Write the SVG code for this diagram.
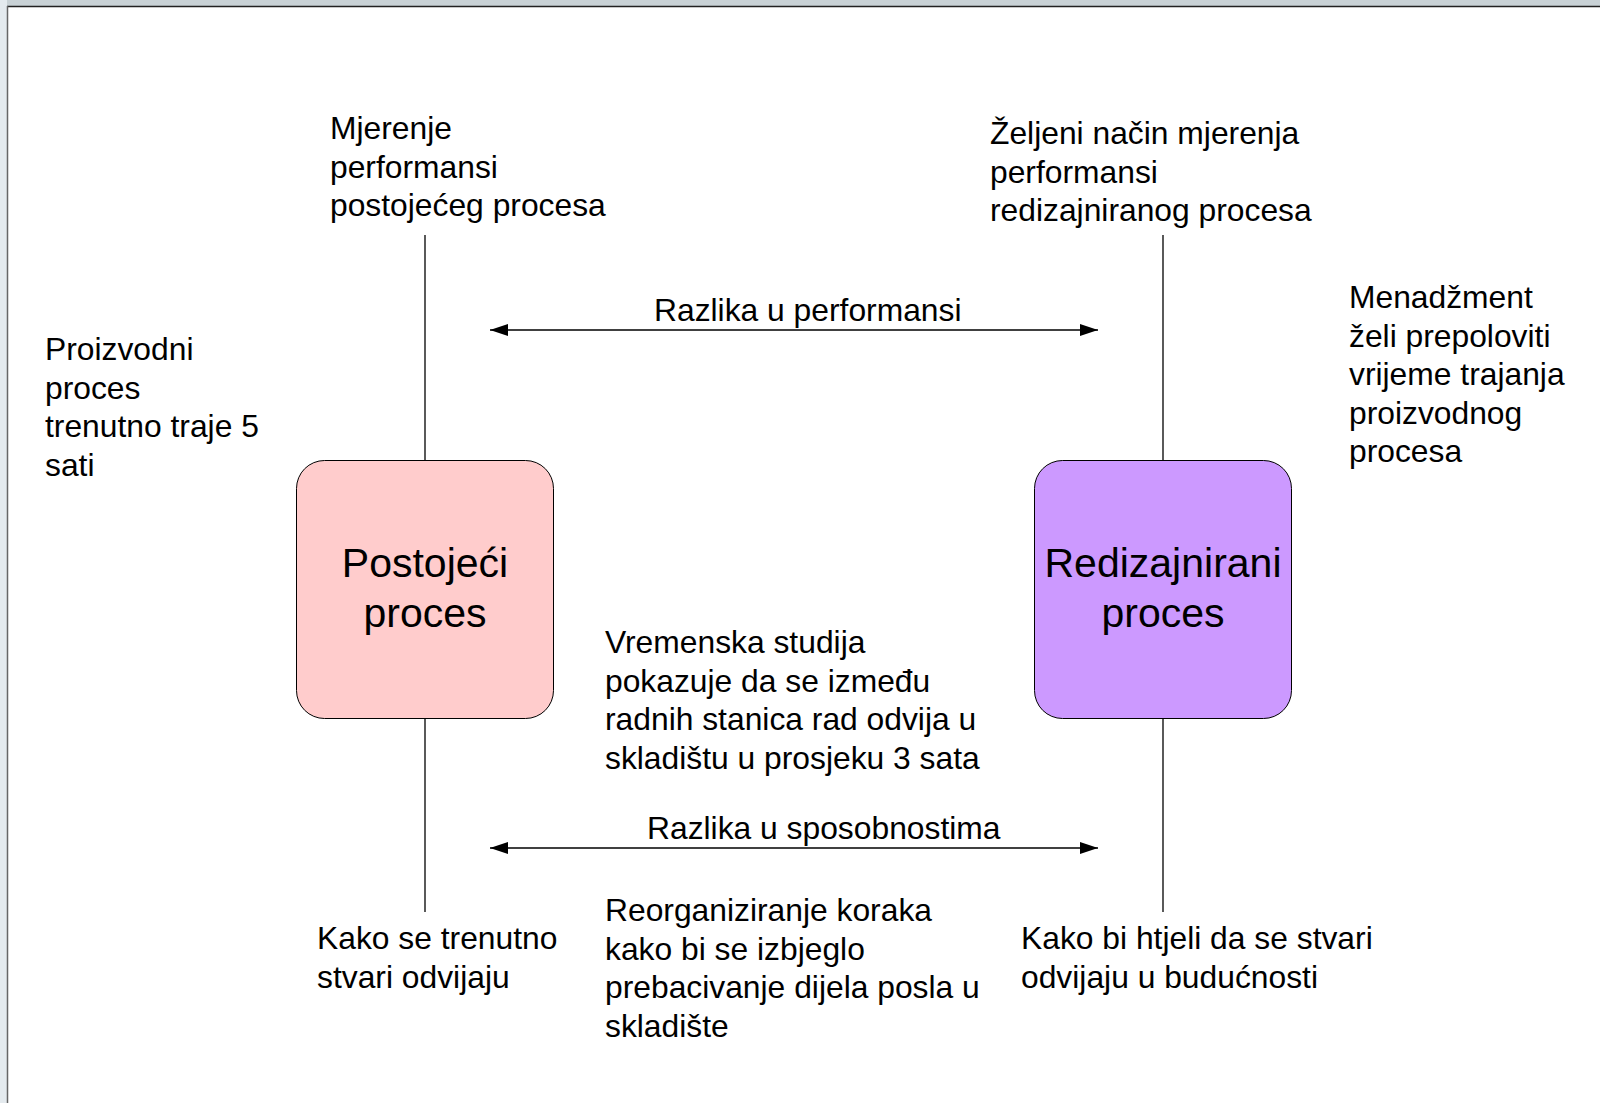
<svg xmlns="http://www.w3.org/2000/svg" width="1600" height="1103" viewBox="0 0 1600 1103">
<style>
.t{font-family:"Liberation Sans",Arial,sans-serif;font-size:31.8px;fill:#000}
.b{font-family:"Liberation Sans",Arial,sans-serif;font-size:41px;fill:#000;text-anchor:middle}
.ln{stroke:#000;stroke-width:1.3;fill:none}
</style>
<defs>
<marker id="ah" viewBox="0 0 18 12" refX="18" refY="6" markerWidth="18" markerHeight="12" markerUnits="userSpaceOnUse" orient="auto-start-reverse">
<path d="M0,0 L18,6 L0,12 Z" fill="#000"/>
</marker>
</defs>
<rect width="1600" height="1103" fill="#fff"/>
<rect x="0" y="0" width="1600" height="6" fill="#c9d2d6"/>
<line x1="0" y1="6.5" x2="1600" y2="6.5" stroke="#222" stroke-width="1.5"/>
<rect x="0" y="0" width="7" height="1103" fill="#e4eaee"/>
<line x1="7.5" y1="6" x2="7.5" y2="1103" stroke="#666" stroke-width="1.5"/>

<g id="connectors">
<line class="ln" x1="425" y1="235" x2="425" y2="460"/>
<line class="ln" x1="425" y1="718" x2="425" y2="912"/>
<line class="ln" x1="1163" y1="235" x2="1163" y2="460"/>
<line class="ln" x1="1163" y1="718" x2="1163" y2="912"/>
<line class="ln" x1="490" y1="330" x2="1098" y2="330" marker-start="url(#ah)" marker-end="url(#ah)"/>
<line class="ln" x1="490" y1="848" x2="1098" y2="848" marker-start="url(#ah)" marker-end="url(#ah)"/>
<text class="t" x="654" y="321">Razlika u performansi</text>
<text class="t" x="647" y="839">Razlika u sposobnostima</text>
</g>

<g id="postojeci">
<rect x="296.5" y="460.5" width="257" height="258" rx="28" fill="#ffcccc" stroke="#000" stroke-width="1"/>
<text class="b" x="425" y="577">Postojeći</text>
<text class="b" x="425" y="627">proces</text>
</g>

<g id="redizajnirani">
<rect x="1034.5" y="460.5" width="257" height="258" rx="28" fill="#cc99ff" stroke="#000" stroke-width="1"/>
<text class="b" x="1163" y="577">Redizajnirani</text>
<text class="b" x="1163" y="627">proces</text>
</g>

<g id="mjerenje">
<text class="t"><tspan x="330" y="139">Mjerenje</tspan><tspan x="330" y="177.5">performansi</tspan><tspan x="330" y="216">postojećeg procesa</tspan></text>
</g>

<g id="zeljeni">
<text class="t"><tspan x="990" y="144">Željeni način mjerenja</tspan><tspan x="990" y="182.5">performansi</tspan><tspan x="990" y="221">redizajniranog procesa</tspan></text>
</g>

<g id="proizvodni">
<text class="t"><tspan x="45" y="360">Proizvodni</tspan><tspan x="45" y="398.5">proces</tspan><tspan x="45" y="437">trenutno traje 5</tspan><tspan x="45" y="475.5">sati</tspan></text>
</g>

<g id="menadzment">
<text class="t"><tspan x="1349" y="308">Menadžment</tspan><tspan x="1349" y="346.5">želi prepoloviti</tspan><tspan x="1349" y="385">vrijeme trajanja</tspan><tspan x="1349" y="423.5">proizvodnog</tspan><tspan x="1349" y="462">procesa</tspan></text>
</g>

<g id="vremenska">
<text class="t"><tspan x="605" y="653">Vremenska studija</tspan><tspan x="605" y="691.5">pokazuje da se između</tspan><tspan x="605" y="730">radnih stanica rad odvija u</tspan><tspan x="605" y="768.5">skladištu u prosjeku 3 sata</tspan></text>
</g>

<g id="trenutno">
<text class="t"><tspan x="317" y="949">Kako se trenutno</tspan><tspan x="317" y="988">stvari odvijaju</tspan></text>
</g>

<g id="reorganiziranje">
<text class="t"><tspan x="605" y="921">Reorganiziranje koraka</tspan><tspan x="605" y="959.5">kako bi se izbjeglo</tspan><tspan x="605" y="998">prebacivanje dijela posla u</tspan><tspan x="605" y="1036.5">skladište</tspan></text>
</g>

<g id="buducnost">
<text class="t"><tspan x="1021" y="949">Kako bi htjeli da se stvari</tspan><tspan x="1021" y="988">odvijaju u budućnosti</tspan></text>
</g>
</svg>
